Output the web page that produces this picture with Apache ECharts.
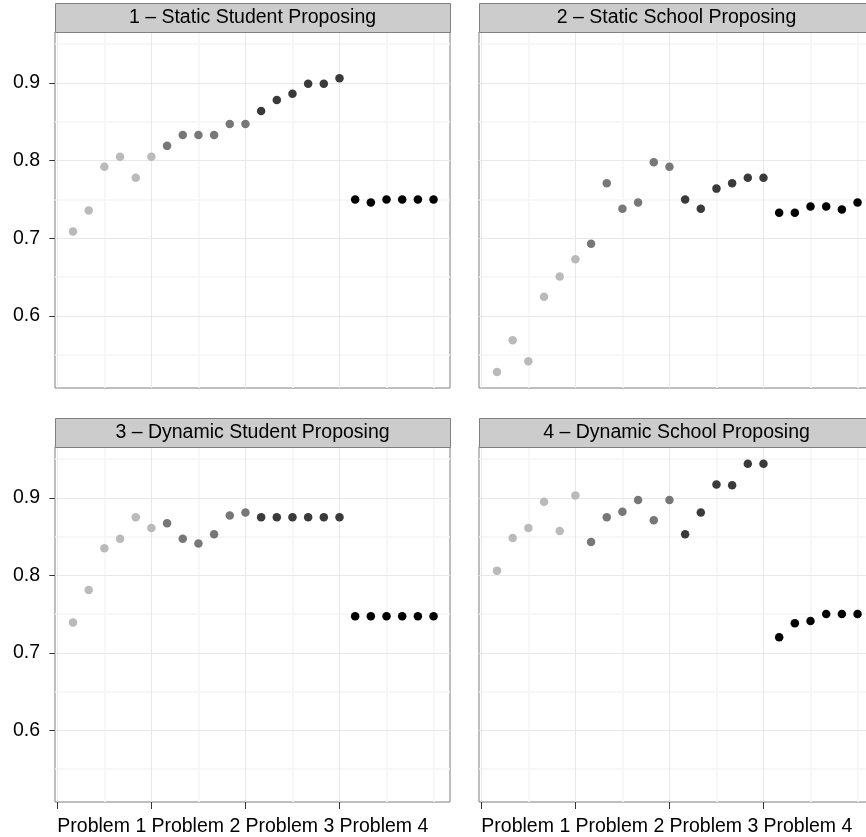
<!DOCTYPE html>
<html><head><meta charset="utf-8">
<script src="https://cdn.jsdelivr.net/npm/echarts@6/dist/echarts.min.js"></script>
<style>html,body{margin:0;padding:0;background:#fff}#c{width:866px;height:837px}</style>
</head><body><div id="c"></div>
<script>
// ---- data ----
const problems = ['Problem 1', 'Problem 2', 'Problem 3', 'Problem 4'];
const panelTitles = ['1 \u2013 Static Student Proposing', '2 \u2013 Static School Proposing',
                     '3 \u2013 Dynamic Student Proposing', '4 \u2013 Dynamic School Proposing'];
const staticStudent = [0.709, 0.736, 0.792, 0.805, 0.778, 0.805,
                       0.819, 0.833, 0.833, 0.833, 0.847, 0.847,
                       0.864, 0.878, 0.886, 0.899, 0.899, 0.906,
                       0.750, 0.746, 0.750, 0.750, 0.750, 0.750];
const staticSchool = [0.528, 0.569, 0.542, 0.625, 0.651, 0.673,
                      0.693, 0.771, 0.738, 0.746, 0.798, 0.792,
                      0.750, 0.738, 0.764, 0.771, 0.778, 0.778,
                      0.733, 0.733, 0.741, 0.741, 0.737, 0.746];
const dynamicStudent = [0.739, 0.781, 0.835, 0.847, 0.875, 0.861,
                        0.867, 0.847, 0.841, 0.853, 0.877, 0.881,
                        0.875, 0.875, 0.875, 0.875, 0.875, 0.875,
                        0.747, 0.747, 0.747, 0.747, 0.747, 0.747];
const dynamicSchool = [0.806, 0.848, 0.861, 0.895, 0.857, 0.903,
                       0.843, 0.875, 0.882, 0.897, 0.871, 0.897,
                       0.853, 0.881, 0.917, 0.916, 0.944, 0.944,
                       0.720, 0.738, 0.741, 0.750, 0.750, 0.750];
const periodsPerProblem = 6;
const xTicks = [0, 6, 12, 18];
const xMinorLines = [3, 9, 15, 21, 24];
const yTicks = [0.6, 0.7, 0.8, 0.9];
const yMinorLines = [0.55, 0.65, 0.75, 0.85, 0.95];

// ---- styles ----
const panels = [staticStudent, staticSchool, dynamicStudent, dynamicSchool];
const problemColors = ['#bababa', '#777777', '#3a3a3a', '#000000'];
const FONT = "'Liberation Sans', Arial, Helvetica, sans-serif";
const FS = 19.5;
const gridPos = [
  {left: 55, top: 32, width: 395, height: 356},
  {left: 479, top: 32, width: 395, height: 356},
  {left: 55, top: 447, width: 395, height: 355},
  {left: 479, top: 447, width: 395, height: 355}
];
const stripH = 29;

const grids = [], xAxes = [], yAxes = [], series = [], graphics = [];
gridPos.forEach((g, i) => {
  const isBottom = i >= 2, isLeft = i % 2 === 0;
  grids.push({left: g.left, top: g.top, width: g.width, height: g.height,
    show: true, borderColor: '#7f7f7f', borderWidth: 1, backgroundColor: '#fff',
    containLabel: false, outerBoundsMode: 'none'});
  xAxes.push({type: 'value', gridIndex: i, min: -0.15, max: 25.05,
    axisLine: {show: false}, splitLine: {show: false},
    axisTick: {show: isBottom, customValues: xTicks, length: 7, lineStyle: {color: '#333', width: 1}},
    axisLabel: {show: isBottom, customValues: xTicks, align: 'left', margin: 15,
      fontFamily: FONT, fontSize: FS, color: '#000',
      formatter: v => problems[Math.round(v / periodsPerProblem)]}});
  yAxes.push({type: 'value', gridIndex: i, min: 0.5075, max: 0.9655,
    axisLine: {show: false}, splitLine: {show: false},
    axisTick: {show: isLeft, customValues: yTicks, length: 8, lineStyle: {color: '#333', width: 1}},
    axisLabel: {show: isLeft, customValues: yTicks, margin: 15,
      fontFamily: FONT, fontSize: FS, color: '#000',
      formatter: v => v.toFixed(1)}});
  // gridlines
  const ml = [];
  xMinorLines.forEach(v => ml.push({xAxis: v, lineStyle: {color: '#f5f5f5', width: 1.5, type: 'solid'}}));
  yMinorLines.forEach(v => ml.push({yAxis: v, lineStyle: {color: '#f5f5f5', width: 1.5, type: 'solid'}}));
  xTicks.forEach(v => ml.push({xAxis: v, lineStyle: {color: '#e8e8e8', width: 1, type: 'solid'}}));
  yTicks.forEach(v => ml.push({yAxis: v, lineStyle: {color: '#e8e8e8', width: 1, type: 'solid'}}));
  series.push({type: 'line', xAxisIndex: i, yAxisIndex: i, data: [], z: 1, silent: true,
    markLine: {silent: true, z: 1, zlevel: 0, symbol: ['none', 'none'], animation: false, label: {show: false},
      emphasis: {disabled: true}, data: ml}});
  // points
  problems.forEach((p, k) => {
    const pts = [];
    for (let j = 0; j < periodsPerProblem; j++) {
      const idx = k * periodsPerProblem + j;
      pts.push([idx + 1, panels[i][idx]]);
    }
    series.push({type: 'scatter', name: p, xAxisIndex: i, yAxisIndex: i, z: 6,
      symbol: 'circle', symbolSize: 8.5, data: pts,
      itemStyle: {color: problemColors[k], opacity: 1},
      emphasis: {disabled: true}});
  });
  // strip
  graphics.push({type: 'rect', left: g.left, top: g.top - stripH,
    shape: {width: g.width, height: stripH},
    style: {fill: '#cccccc', stroke: '#7f7f7f', lineWidth: 1}, z: 10});
  graphics.push({type: 'text', x: g.left + g.width / 2, y: g.top - stripH / 2,
    style: {text: panelTitles[i], fill: '#000', font: FS + 'px ' + FONT,
      textAlign: 'center', textVerticalAlign: 'middle'}, z: 11});
});

const chart = echarts.init(document.getElementById('c'), null, {renderer: 'canvas'});
chart.setOption({
  animation: false,
  backgroundColor: '#fff',
  grid: grids, xAxis: xAxes, yAxis: yAxes, series: series,
  graphic: {elements: graphics}
});
</script></body></html>
